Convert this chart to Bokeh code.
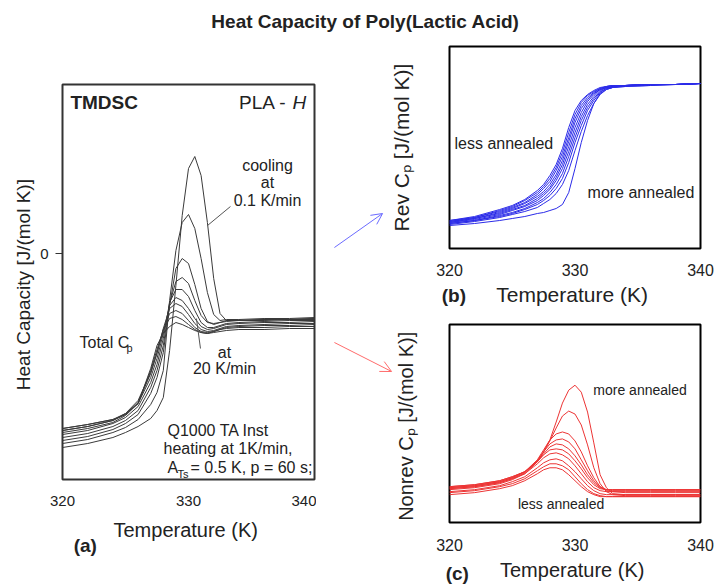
from bokeh.plotting import figure
from bokeh.layouts import column, row
from bokeh.models import Range1d, FixedTicker, Label, Arrow, OpenHead, Spacer
from bokeh.embed import file_html
from bokeh.resources import INLINE

FONT = "Liberation Sans"
INK = "#222222"

# Temperature grid (K) shared by all scans
temperature = [320, 322, 324, 325, 326, 327, 327.5, 328, 328.5, 329, 329.5,
               330, 330.5, 331, 331.5, 332, 332.5, 333, 334, 336, 338, 340]

# (a) total heat capacity, most annealed first (offset scale, J/(mol K))
total_cp = [
    [-19.4, -19.0, -18.4, -17.9, -17.3, -16.5, -15.7, -14.4, -9.7, -3.2, 3.8, 8.5, 9.7, 7.8, 3.1, -2.5, -6.0, -6.7, -6.7, -6.6, -6.6, -6.5],
    [-19.0, -18.6, -17.9, -17.4, -16.6, -15.1, -13.9, -11.7, -4.7, 0.3, 3.1, 3.9, 2.5, -0.5, -3.9, -6.1, -6.7, -6.6, -6.6, -6.5, -6.5, -6.4],
    [-18.7, -18.3, -17.6, -17.0, -16.1, -14.0, -12.4, -9.9, -5.2, -1.5, -0.5, -1.0, -3.1, -5.5, -6.8, -7.1, -6.9, -6.7, -6.7, -6.6, -6.6, -6.5],
    [-18.4, -18.0, -17.3, -16.7, -15.7, -13.4, -11.7, -9.2, -5.0, -2.8, -2.4, -3.0, -4.7, -6.2, -6.9, -7.0, -6.9, -6.8, -6.7, -6.7, -6.6, -6.6],
    [-18.1, -17.7, -17.0, -16.4, -15.3, -12.9, -11.1, -8.5, -4.9, -3.6, -3.6, -4.3, -5.7, -6.9, -7.4, -7.4, -7.2, -7.0, -6.9, -6.8, -6.7, -6.7],
    [-17.9, -17.5, -16.9, -16.2, -15.0, -12.4, -10.5, -8.0, -5.2, -4.4, -4.7, -5.5, -6.5, -7.3, -7.6, -7.5, -7.3, -7.1, -7.0, -6.9, -6.9, -6.8],
    [-17.7, -17.3, -16.7, -16.0, -14.7, -11.9, -10.0, -7.5, -5.5, -5.0, -5.3, -6.1, -7.0, -7.6, -7.8, -7.7, -7.5, -7.3, -7.2, -7.1, -7.0, -7.0],
    [-17.7, -17.3, -16.7, -16.1, -14.9, -12.0, -9.9, -7.7, -6.0, -5.7, -6.0, -6.7, -7.4, -7.8, -7.9, -7.8, -7.6, -7.4, -7.3, -7.2, -7.2, -7.1],
    [-17.5, -17.1, -16.6, -16.0, -15.0, -11.7, -9.6, -7.6, -6.5, -6.3, -6.6, -7.1, -7.6, -7.9, -8.0, -7.8, -7.6, -7.5, -7.4, -7.4, -7.3, -7.3],
    [-17.5, -17.1, -16.6, -16.1, -15.0, -11.5, -9.2, -8.0, -7.3, -6.9, -7.1, -7.4, -7.7, -7.9, -8.0, -7.9, -7.8, -7.7, -7.6, -7.6, -7.5, -7.5],
]

# (b) reversing heat capacity, most annealed first
rev_cp = [
    [2.3, 2.5, 2.8, 3.0, 3.2, 3.5, 3.6, 3.8, 4.0, 4.4, 5.6, 8.0, 10.6, 12.8, 14.5, 15.5, 15.9, 16.1, 16.2, 16.3, 16.4, 16.5],
    [2.4, 2.7, 3.1, 3.4, 3.7, 4.1, 4.5, 4.9, 5.5, 6.4, 7.8, 9.8, 11.7, 13.3, 14.5, 15.4, 15.9, 16.1, 16.2, 16.3, 16.4, 16.5],
    [2.5, 2.8, 3.2, 3.5, 3.9, 4.4, 4.8, 5.3, 6.0, 7.0, 8.6, 10.6, 12.3, 13.8, 14.8, 15.6, 16.0, 16.1, 16.3, 16.4, 16.4, 16.5],
    [2.5, 2.8, 3.3, 3.6, 4.0, 4.6, 5.0, 5.6, 6.4, 7.5, 9.2, 11.1, 12.8, 14.1, 15.0, 15.7, 16.0, 16.2, 16.3, 16.4, 16.4, 16.5],
    [2.6, 2.9, 3.4, 3.8, 4.2, 4.8, 5.3, 5.9, 6.8, 8.0, 9.7, 11.6, 13.2, 14.4, 15.2, 15.8, 16.1, 16.2, 16.3, 16.4, 16.4, 16.5],
    [2.6, 3.0, 3.5, 3.9, 4.3, 5.0, 5.5, 6.1, 7.1, 8.4, 10.2, 12.1, 13.6, 14.7, 15.4, 15.9, 16.1, 16.2, 16.3, 16.4, 16.4, 16.5],
    [2.7, 3.0, 3.6, 4.0, 4.5, 5.2, 5.7, 6.4, 7.4, 8.8, 10.7, 12.6, 14.0, 14.9, 15.5, 15.9, 16.1, 16.2, 16.3, 16.4, 16.4, 16.5],
    [2.7, 3.1, 3.7, 4.1, 4.6, 5.4, 6.0, 6.7, 7.8, 9.2, 11.1, 13.0, 14.3, 15.1, 15.6, 16.0, 16.2, 16.3, 16.3, 16.4, 16.4, 16.5],
    [2.8, 3.1, 3.8, 4.2, 4.8, 5.6, 6.2, 7.0, 8.1, 9.6, 11.6, 13.4, 14.6, 15.3, 15.7, 16.0, 16.2, 16.3, 16.3, 16.4, 16.4, 16.5],
    [2.8, 3.2, 3.9, 4.3, 4.9, 5.8, 6.4, 7.3, 8.4, 10.0, 12.1, 13.8, 14.8, 15.4, 15.8, 16.1, 16.2, 16.3, 16.3, 16.4, 16.4, 16.5],
]

# (c) non-reversing heat capacity, most annealed first
nonrev_cp = [
    [3.3, 3.5, 3.9, 4.3, 4.9, 6.1, 7.1, 8.3, 10.1, 12.0, 13.3, 13.8, 13.1, 11.1, 8.0, 4.8, 3.5, 2.9, 2.8, 2.8, 2.8, 2.8],
    [3.4, 3.6, 4.0, 4.4, 5.0, 6.2, 7.1, 8.2, 9.5, 10.7, 11.2, 10.9, 9.8, 7.8, 5.5, 3.9, 3.1, 2.8, 2.7, 2.7, 2.7, 2.7],
    [3.5, 3.7, 4.1, 4.5, 5.1, 6.3, 7.3, 8.3, 8.9, 9.1, 8.9, 8.2, 7.1, 5.7, 4.5, 3.6, 3.2, 3.1, 3.0, 3.0, 3.0, 3.0],
    [3.5, 3.7, 4.1, 4.5, 5.1, 6.2, 7.1, 7.9, 8.3, 8.4, 8.1, 7.4, 6.3, 5.2, 4.2, 3.6, 3.3, 3.2, 3.2, 3.2, 3.2, 3.2],
    [3.6, 3.8, 4.2, 4.6, 5.1, 6.1, 6.9, 7.6, 7.9, 7.8, 7.4, 6.7, 5.8, 4.8, 4.0, 3.5, 3.3, 3.3, 3.3, 3.3, 3.3, 3.3],
    [3.6, 3.8, 4.2, 4.6, 5.1, 6.1, 6.8, 7.3, 7.4, 7.3, 6.9, 6.2, 5.4, 4.5, 3.8, 3.4, 3.3, 3.3, 3.3, 3.3, 3.3, 3.3],
    [3.4, 3.6, 4.0, 4.4, 4.9, 5.9, 6.5, 6.9, 7.0, 6.8, 6.4, 5.7, 4.9, 4.1, 3.5, 3.2, 3.1, 3.1, 3.1, 3.1, 3.1, 3.1],
    [3.1, 3.3, 3.7, 4.1, 4.6, 5.5, 6.0, 6.3, 6.4, 6.2, 5.7, 5.1, 4.4, 3.7, 3.2, 2.9, 2.8, 2.8, 2.8, 2.8, 2.8, 2.8],
    [3.0, 3.2, 3.6, 3.9, 4.4, 5.2, 5.6, 5.9, 5.9, 5.7, 5.3, 4.6, 3.9, 3.3, 2.9, 2.7, 2.6, 2.6, 2.6, 2.6, 2.6, 2.6],
    [2.8, 3.0, 3.4, 3.7, 4.2, 4.9, 5.3, 5.5, 5.5, 5.3, 4.8, 4.2, 3.6, 3.1, 2.8, 2.6, 2.6, 2.6, 2.6, 2.6, 2.6, 2.6],
]

temp_ticks = [320, 330, 340]
total_ticks = [0]

# leader lines in panel (a): (T0, T1, y0, y1)
leader_cooling = (333.33, 331.51, 4.7, 2.8)
leader_fast = (330.63, 330.95, -6.5, -9.5)


def text(p, x, y, s, size, style="normal", align="left", baseline="middle", color=INK, angle=0):
    p.add_layout(Label(x=x, y=y, text=s, text_font=FONT, text_font_size=f"{size}px",
                       text_font_style=style, text_align=align, text_baseline=baseline,
                       text_color=color, angle=angle))


def style_axes(p, xlabel, ylabel, xlabel_size, ylabel_size, tick_size,
               x_standoff, x_label_standoff, y_label_standoff, yticks):
    p.xaxis.ticker = FixedTicker(ticks=temp_ticks)
    p.yaxis.ticker = FixedTicker(ticks=yticks)
    for ax in (p.xaxis, p.yaxis):
        ax.axis_line_color = None
        ax.major_tick_in = 0
        ax.minor_tick_in = 0
        ax.minor_tick_out = 0
        ax.major_label_text_font = FONT
        ax.major_label_text_font_size = f"{tick_size}px"
        ax.major_label_text_color = INK
        ax.axis_label_text_font = FONT
        ax.axis_label_text_font_style = "normal"
        ax.axis_label_text_color = INK
    p.xaxis.major_tick_out = 0
    p.xaxis.major_label_standoff = x_standoff
    p.xaxis.axis_label = xlabel
    p.xaxis.axis_label_text_font_size = f"{xlabel_size}px"
    p.xaxis.axis_label_standoff = x_label_standoff
    p.yaxis.axis_label = ylabel
    p.yaxis.axis_label_text_font_size = f"{ylabel_size}px"
    p.yaxis.axis_label_standoff = y_label_standoff
    p.xgrid.grid_line_color = None
    p.ygrid.grid_line_color = None


# ---- title strip ----
pt = figure(width=716, height=40, output_backend="svg", toolbar_location=None,
            x_axis_type=None, y_axis_type=None, min_border=0, min_border_left=14,
            min_border_top=33, outline_line_color=None)
pt.title.text = "Heat Capacity of Poly(Lactic Acid)"
pt.title.align = "center"
pt.title.text_font = FONT
pt.title.text_font_size = "19px"
pt.title.text_font_style = "bold"
pt.title.text_color = INK
pt.title.standoff = 4

# ---- (a) total Cp ----
pa = figure(width=316, height=545, x_range=Range1d(320, 340), y_range=Range1d(-22.6, 16.9),
            output_backend="svg", toolbar_location=None,
            min_border_left=62, min_border_right=2, min_border_top=44, min_border_bottom=106)
pa.outline_line_color = "#333333"
pa.outline_line_width = 2
style_axes(pa, "Temperature  (K)", "Heat Capacity  [J/(mol K)]", 20, 19, 15,
           16, 10, 3, total_ticks)
pa.yaxis.major_tick_out = 7
pa.yaxis.major_tick_line_color = "#333333"
pa.yaxis.major_label_standoff = 7
pa.multi_line(xs=[temperature] * len(total_cp), ys=total_cp, line_color="#3a3a3a", line_width=1)
pa.segment(x0=[leader_cooling[0], leader_fast[0]], x1=[leader_cooling[1], leader_fast[1]],
           y0=[leader_cooling[2], leader_fast[2]], y1=[leader_cooling[3], leader_fast[3]],
           line_color="#555555", line_width=1)

text(pa, 320.63, 15.1, "TMDSC", 19, style="bold")
text(pa, 338.2, 15.1, "PLA - ", 19, align="right")
text(pa, 338.25, 15.1, "H", 19, style="italic")
text(pa, 336.27, 8.8, "cooling", 16, align="center")
text(pa, 336.27, 7.1, "at", 16, align="center")
text(pa, 336.27, 5.3, "0.1 K/min", 16, align="center")
text(pa, 321.35, -8.9, "Total C", 16)
text(pa, 325.08, -9.4, "p", 11)
text(pa, 332.86, -9.9, "at", 16, align="center")
text(pa, 332.86, -11.5, "20 K/min", 16, align="center")
text(pa, 328.33, -17.7, "Q1000 TA Inst", 16)
text(pa, 328.02, -19.5, "heating at  1K/min,", 16)
text(pa, 328.33, -21.4, "A", 16)
text(pa, 329.13, -22.0, "Ts", 11)
text(pa, 330.16, -21.4, " = 0.5 K, p = 60 s;", 16)

gap = Spacer(width=70, height=545)

# ---- (b) reversing Cp ----
pb = figure(width=330, height=272, x_range=Range1d(320, 340), y_range=Range1d(0, 20.2),
            output_backend="svg", toolbar_location=None,
            min_border_left=62, min_border_right=16, min_border_top=6, min_border_bottom=64)
pb.outline_line_color = "black"
pb.outline_line_width = 2
style_axes(pb, "Temperature  (K)", "Rev C\u209a [J/(mol K)]", 21, 21, 16, 15, 4, 37, [])
pb.yaxis.major_tick_out = 0
pb.multi_line(xs=[temperature] * len(rev_cp), ys=rev_cp, line_color="#2b2be8", line_width=1)
text(pb, 320.4, 10.5, "less annealed", 16)
text(pb, 331.0, 5.6, "more annealed", 16)

# ---- (c) non-reversing Cp ----
pc = figure(width=330, height=273, x_range=Range1d(320, 340), y_range=Range1d(0, 19.9),
            output_backend="svg", toolbar_location=None,
            min_border_left=62, min_border_right=14, min_border_top=12, min_border_bottom=63)
pc.outline_line_color = "black"
pc.outline_line_width = 2
style_axes(pc, "Temperature  (K)", "Nonrev C\u209a  [J/(mol K)]", 20, 20, 16, 16, 5, 33, [])
pc.yaxis.major_tick_out = 0
pc.multi_line(xs=[temperature] * len(nonrev_cp), ys=nonrev_cp, line_color="#ec3434", line_width=1)
text(pc, 331.46, 13.3, "more annealed", 14)
text(pc, 325.45, 1.9, "less annealed", 14)

# ---- transparent sheet over the page: panel letters and linking arrows ----
# its drawing area starts 16 px in from the page edge, so the x range starts there
po = figure(width=716, height=585, x_range=Range1d(16, 716), y_range=Range1d(585, 0),
            output_backend="svg", toolbar_location=None, x_axis_type=None, y_axis_type=None,
            min_border=0, outline_line_color=None, background_fill_color=None,
            border_fill_color=None, margin=(-585, 0, 0, 0))
text(po, 75, 545, "(a)", 19, style="bold")
text(po, 442, 295, "(b)", 19, style="bold")
text(po, 446, 573, "(c)", 19, style="bold")
po.add_layout(Arrow(end=OpenHead(size=11, line_color="#6b6bff", line_width=1),
                    x_start=335, y_start=247, x_end=383, y_end=213,
                    line_color="#6b6bff", line_width=1))
po.add_layout(Arrow(end=OpenHead(size=11, line_color="#ff6b6b", line_width=1),
                    x_start=335, y_start=342, x_end=392, y_end=371,
                    line_color="#ff6b6b", line_width=1))

layout = column(pt, row(pa, gap, column(pb, pc)), po)

open("out.html", "w").write(file_html(layout, INLINE))
